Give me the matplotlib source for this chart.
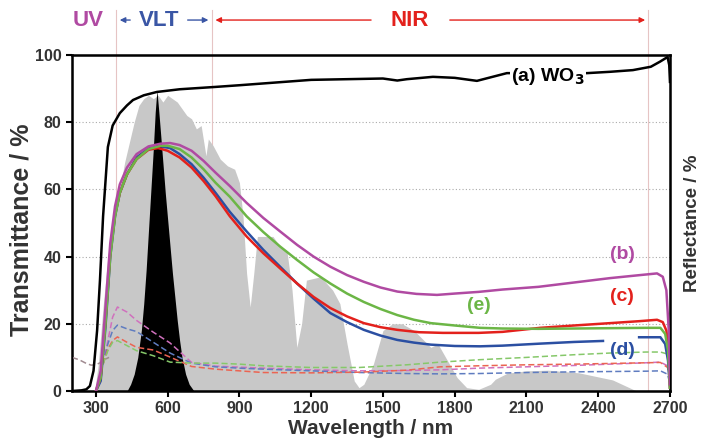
import numpy as np
import matplotlib.pyplot as plt

plt.rcParams['font.family'] = ['Liberation Sans', 'DejaVu Sans']
plt.rcParams['font.weight'] = 'bold'
plt.rcParams['axes.labelweight'] = 'bold'
plt.rcParams['mathtext.default'] = 'bf'

# solar irradiance (scaled) and photopic eye response
solar_wl = [295, 310, 330, 350, 370, 400, 420, 440, 460, 480, 500, 520, 540, 560, 580, 600,
            620, 640, 660, 680, 700, 720, 740, 760, 770, 790, 820, 850, 880, 900, 915, 930,
            945, 960, 975, 1000, 1040, 1070, 1100, 1120, 1140, 1160, 1180, 1240, 1290, 1320,
            1350, 1380, 1400, 1420, 1460, 1500, 1540, 1580, 1630, 1700, 1730, 1770, 1810,
            1850, 1900, 1950, 1970, 2020, 2100, 2190, 2320, 2460, 2530, 2560, 2700]
solar_val = [0, 8, 25, 40, 50, 60, 68, 74, 80, 85, 87, 88, 87, 88, 86, 88,
             87, 86, 84, 82, 81, 78, 79, 70, 75, 73, 69, 67, 66, 62, 52, 35,
             25, 35, 46, 46, 46, 43, 41, 30, 13, 20, 33, 34, 30, 26,
             14, 3, 1, 2, 8, 18, 20, 20, 18, 13, 14, 9, 4,
             1, 0.5, 2, 3.5, 5.3, 6, 6.2, 5.4, 3.3, 1, 0, 0]

eye_wl = [430, 445, 460, 475, 490, 500, 510, 520, 530, 540, 548, 555, 562, 570, 580, 590,
          600, 610, 620, 630, 640, 650, 660, 675, 690, 710]
eye_val = [0, 2, 5, 10, 18, 26, 36, 48, 60, 72, 83, 89.5, 84, 77, 68, 59,
           51, 43, 35, 28, 21, 15, 10, 5, 2, 0]

# (a) WO3 transmittance
wo3_wl = [200, 240, 260, 275, 290, 305, 317, 330, 350, 370, 400, 430, 455, 500, 555, 650,
          800, 900, 1050, 1200, 1350, 1500, 1560, 1600, 1709, 1800, 1893, 2018, 2200, 2353,
          2450, 2545, 2620, 2658, 2690, 2697, 2700]
wo3_val = [0, 0.2, 0.5, 1.5, 6, 18, 33, 52, 72.6, 79, 82.7, 85, 86.6, 88, 89, 89.8,
           90.5, 91, 91.8, 92.6, 92.8, 93, 92.4, 92.8, 93.5, 93.2, 92.3, 94.6, 94.6, 94.6,
           95, 95.5, 96.5, 98, 99.4, 97, 92]

# (b)-(e) transmittance
wl_b = [300, 320, 340, 360, 380, 400, 430, 470, 520, 570, 610, 650, 700, 750, 800, 860, 930,
        1000, 1070, 1141, 1210, 1280, 1350, 1420, 1490, 1560, 1640, 1726, 1800, 1900, 2000,
        2150, 2300, 2450, 2575, 2646, 2670, 2685, 2695, 2700]
t_b = [0, 6, 25, 44, 55, 61.5, 66.5, 70.5, 72.8, 73.6, 73.8, 73.2, 71.5, 68.5, 65, 61, 56,
       51.5, 47.5, 43.5, 40, 37, 34.5, 32.5, 30.8, 29.6, 28.9, 28.6, 29, 29.5, 30.2,
       31, 32.3, 33.6, 34.5, 35, 34, 30, 18, 2]

wl_c = [300, 320, 340, 360, 380, 400, 430, 470, 520, 560, 600, 650, 700, 750, 800, 860, 930,
        1000, 1070, 1141, 1210, 1280, 1350, 1420, 1490, 1560, 1650, 1750, 1900, 2000, 2157,
        2300, 2450, 2575, 2646, 2670, 2685, 2695, 2700]
t_c = [0, 4, 21, 41, 52.5, 59, 64.5, 69, 71.8, 72.3, 71.5, 69.5, 66.5, 62.5, 58, 52, 46,
       41, 36.5, 32, 28, 24.7, 22.2, 20.2, 19, 18.2, 17.5, 17.3, 17.3, 17.6, 18.8,
       19.5, 20.2, 20.8, 21.2, 20.5, 18, 12, 1]

wl_d = [300, 320, 340, 360, 380, 400, 430, 470, 520, 570, 610, 650, 700, 750, 800, 860, 930,
        1000, 1070, 1141, 1210, 1280, 1350, 1420, 1490, 1560, 1630, 1700, 1800, 1906, 2000,
        2157, 2300, 2420, 2500, 2571, 2660, 2680, 2692, 2700]
t_d = [0, 3, 19, 40, 52, 59, 64.5, 69.5, 72.2, 72.8, 72.3, 70.5, 67.5, 63.5, 59, 53.3, 47.5,
       42, 37, 32, 27.5, 23.2, 20.5, 18.2, 16.5, 15.2, 14.4, 13.8, 13.4, 13.3, 13.5,
       14.1, 14.6, 14.9, np.nan, 16, 16, 14, 9, 1]

wl_e = [300, 320, 340, 360, 380, 400, 430, 470, 520, 570, 600, 650, 700, 750, 800, 860, 930,
        1000, 1070, 1141, 1210, 1280, 1350, 1420, 1490, 1560, 1630, 1700, 1800, 1906, 2000,
        2150, 2300, 2450, 2600, 2660, 2680, 2692, 2700]
t_e = [0, 4, 20, 40, 52, 59, 64.5, 69, 72, 73, 73, 72, 69.5, 66, 62, 57.8, 52,
       47.3, 43, 39, 35.3, 32, 29, 26.5, 24.4, 22.6, 21.2, 20.2, 19.5, 18.8, 18.6,
       18.5, 18.6, 18.7, 18.8, 18.8, 17, 12, 1]

# reflectance (dashed)
r_wo3_wl = [200, 230, 260, 280, 300, 320, 340, 355]
r_wo3 = [10, 9.3, 8.2, 7.7, 7.8, 8.5, 9.5, 10]

r_wl = [330, 350, 370, 390, 430, 470, 540, 610, 700, 800, 900, 1000, 1200, 1400, 1600, 1740,
        1900, 2100, 2300, 2450, 2600, 2660, 2690, 2700]
r_b = [8, 15, 22, 25, 23.5, 21, 17.5, 14.3, 8.5, 7.4, 7.1, 6.8, 6.3, 6, 6.1, 6.3,
       6.8, 7.2, 7.6, 8, 8.4, 8.6, 7.5, 3]
r_c = [8, 12.5, 15, 16.1, 14.5, 13, 12.2, 10.1, 7.3, 6.5, 6, 5.5, 5.4, 5.6, 6.2, 7.2,
       7.5, 7.8, 8, 8.2, 8.4, 8.5, 7, 2]
r_d = [8, 14, 18, 19.6, 18.5, 17.7, 14.5, 11.3, 8.3, 7.2, 6.8, 6.5, 6, 5.5, 5.2, 5.1,
       5.2, 5.5, 5.7, 5.8, 5.9, 6, 5, 2]
r_e = [8, 12, 14.5, 15, 13.5, 12, 10.5, 8.6, 8.3, 8.3, 8, 7.5, 7, 7, 7.8, 8.6,
       9.3, 10, 10.8, 11.3, 11.6, 11.6, 11, 3]

region_edges = [385, 785, 2610]

c_b, c_c, c_d, c_e = '#b04aa2', '#e3211c', '#2b4fa2', '#6cb646'
txt_col = '#333333'

fig = plt.figure(figsize=(7.03, 4.46), dpi=100)
ax = fig.add_axes([0.1024, 0.1233, 0.8506, 0.7534])

ax.fill_between(solar_wl, solar_val, color='#c8c8c8', lw=0, zorder=1)
ax.fill_between(eye_wl, eye_val, color='black', lw=0, zorder=2)

for y in [20, 40, 60, 80]:
    ax.axhline(y, color='#aaaaaa', lw=0.8, ls=(0, (1, 2)), zorder=0.5)
for x in region_edges:
    ax.axvline(x, ymin=0, ymax=1.135, color='#e6c4c4', lw=0.8, clip_on=False, zorder=0.5)

dash = (0, (4, 2))
ax.plot(r_wo3_wl, r_wo3, color='#a08a90', lw=1.1, ls=dash, zorder=3)
ax.plot(r_wl, r_b, color='#d070bd', lw=1.1, ls=dash, zorder=3)
ax.plot(r_wl, r_d, color='#5f7cc0', lw=1.1, ls=dash, zorder=3)
ax.plot(r_wl, r_c, color='#eb6452', lw=1.1, ls=dash, zorder=3)
ax.plot(r_wl, r_e, color='#86c86a', lw=1.1, ls=dash, zorder=3)

ax.plot(wl_d, t_d, color=c_d, lw=1.8, zorder=4)
ax.plot(wl_c, t_c, color=c_c, lw=1.8, zorder=4)
ax.plot(wl_e, t_e, color=c_e, lw=1.8, zorder=4)
ax.plot(wl_b, t_b, color=c_b, lw=1.8, zorder=4)
ax.plot(wo3_wl, wo3_val, color='black', lw=1.8, zorder=5)

lab = dict(fontsize=14, fontweight='bold', ha='center', va='center', zorder=6)
ax.text(2190, 93.5, '(a) WO$_3$', color='black',
        bbox=dict(fc='white', ec='none', pad=0.5), **lab)
ax.text(2500, 40.5, '(b)', color=c_b, **lab)
ax.text(2500, 28, '(c)', color=c_c, **lab)
ax.text(2503, 12, '(d)', color=c_d, **lab)
ax.text(1902, 25.3, '(e)', color=c_e, **lab)

# region labels above the plot
ytop = 110.4
top = dict(fontsize=16, fontweight='bold', ha='center', va='center', clip_on=False)
ax.text(267, ytop, 'UV', color='#b04aa2', **top)
ax.text(565, ytop, 'VLT', color='#3a56a5', **top)
ax.text(1613, ytop, 'NIR', color='#e3211c', **top)
arrows = [(455, 388, '#3a56a5'), (672, 782, '#3a56a5'), (1462, 788, '#e3211c'), (1768, 2608, '#e3211c')]
for x0, x1, col in arrows:
    ax.annotate('', xy=(x1, ytop), xytext=(x0, ytop), annotation_clip=False,
                arrowprops=dict(arrowstyle='-|>', color=col, lw=1.0, mutation_scale=8))

ax.set_xlim(200, 2700)
ax.set_ylim(0, 100)
ax.set_xticks(range(300, 2701, 300))
ax.set_yticks(range(0, 101, 20))
ax.tick_params(direction='out', width=1.5, length=4, labelsize=11.5, labelcolor=txt_col)
for t in ax.get_xticklabels() + ax.get_yticklabels():
    t.set_fontweight('bold')
for s in ax.spines.values():
    s.set_linewidth(1.8)
ax.set_xlabel('Wavelength / nm', fontsize=15, fontweight='bold', color=txt_col, labelpad=2)
ax.set_ylabel('Transmittance / %', fontsize=18, fontweight='bold', color=txt_col)
ax.yaxis.set_label_coords(-0.064, 0.48)

ax2 = ax.twinx()
ax2.set_ylim(0, 100)
ax2.tick_params(right=False, labelright=False)
ax2.set_ylabel('Reflectance / %', fontsize=13.5, fontweight='bold', color=txt_col)
ax2.yaxis.set_label_coords(1.024, 0.5)

fig.savefig('out.png', dpi=100)
